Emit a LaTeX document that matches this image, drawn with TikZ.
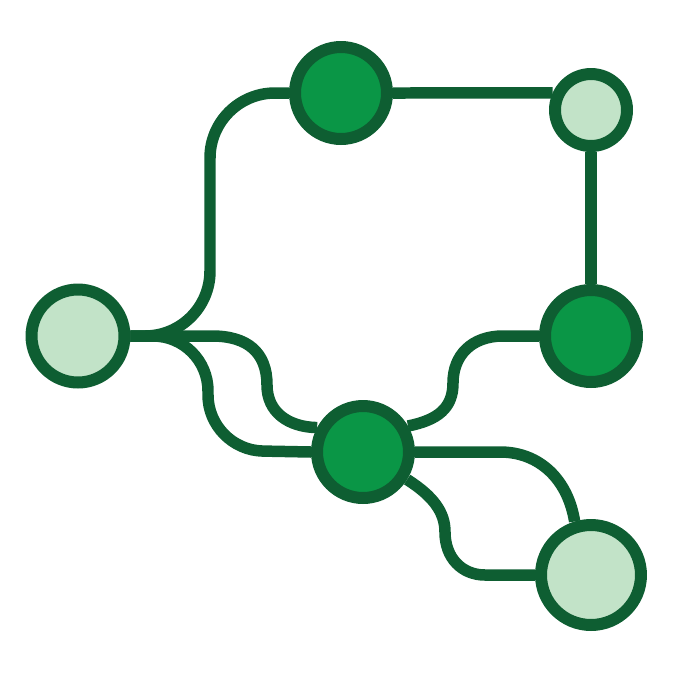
\documentclass[tikz,border=0pt]{standalone}
\usepackage{tikz}
\usetikzlibrary{shapes, arrows}

\definecolor{linegreen}{RGB}{14,94,50}
\definecolor{hubgreen}{RGB}{10,150,70}
\definecolor{leafgreen}{RGB}{194,227,200}

\begin{document}
\begin{tikzpicture}[x=0.02cm, y=-0.02cm,
	hub/.style={draw=linegreen, fill=hubgreen, circle, line width=0.24cm, inner sep=0pt},
	leaf/.style={draw=linegreen, fill=leafgreen, circle, line width=0.24cm, inner sep=0pt},
	link/.style={draw=linegreen, line width=0.23cm},
	]
	\useasboundingbox (0,0) rectangle (674,674);
	\node[leaf, minimum size=1.86cm] (src) at (78,336) {};
	\node[hub, minimum size=1.84cm] (top) at (341,93) {};
	\node[leaf, minimum size=1.44cm] (corner) at (591,110) {};
	\node[hub, minimum size=1.84cm] (right) at (591,336) {};
	\node[hub, minimum size=1.84cm] (mid) at (363,452) {};
	\node[leaf, minimum size=2.0cm] (sink) at (591,575) {};

	\draw[link, rounded corners=1.3cm] (src.east) -- (210,336) -- (210,93) -- (top.west);
	\draw[link] (top.east) -- (corner.156);
	\draw[link] (corner.south) -- (right.north);
	\draw[link, rounded corners=1.1cm] (src.east) -- (208,336) -- (208,450) -- (mid.west);
	\draw[link] (src.east) -- (212,336)
		.. controls (247,336) and (267,352) .. (267,385)
		.. controls (267,412) and (288,427) .. (mid.152);
	\draw[link] (mid.30)
		.. controls (438,420) and (453,408) .. (453,383)
		.. controls (453,355) and (472,336) .. (503,336) -- (right.west);
	\draw[link] (mid.east) -- (500,452)
		.. controls (540,452) and (568,480) .. (sink.107);
	\draw[link] (mid.-32)
		.. controls (433,496) and (445,512) .. (445,532)
		.. controls (445,558) and (462,575) .. (485,575) -- (sink.west);
	\end{tikzpicture}
\end{document}
